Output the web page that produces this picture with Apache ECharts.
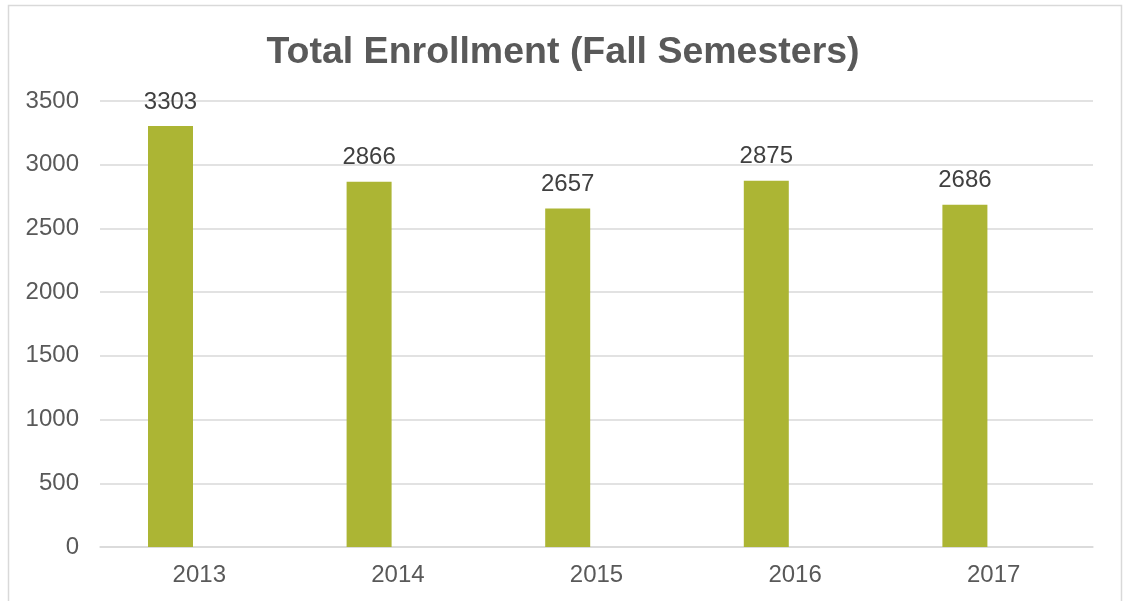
<!DOCTYPE html>
<html>
<head>
<meta charset="utf-8">
<script src="https://cdn.jsdelivr.net/npm/echarts@6/dist/echarts.min.js"></script>
<style>
html,body{margin:0;padding:0;background:#fff;}
#chart{width:1126px;height:601px;}
</style>
</head>
<body>
<div id="chart"></div>
<script>
const categories = ['2013', '2014', '2015', '2016', '2017'];
const enrollment = [3303, 2866, 2657, 2875, 2686];
const emptySeries = [null, null, null, null, null];
const yTicks = [0, 500, 1000, 1500, 2000, 2500, 3000, 3500];

const FONT = '"Liberation Sans", Arial, sans-serif';
const chart = echarts.init(document.getElementById('chart'), null, {renderer: 'canvas'});
chart.setOption({
  animation: false,
  backgroundColor: '#ffffff',
  title: {
    text: 'Total Enrollment (Fall Semesters)',
    left: 'center',
    top: 29,
    textStyle: {fontFamily: FONT, fontSize: 37.5, fontWeight: 'bold', color: '#595959'}
  },
  graphic: [{
    type: 'rect',
    shape: {x: 8.5, y: 5.5, width: 1113, height: 620},
    style: {fill: 'none', stroke: '#d9d9d9', lineWidth: 1.5},
    silent: true
  }],
  grid: {left: 100, right: 33, top: 101, bottom: 54, containLabel: false},
  xAxis: {
    type: 'category',
    data: categories,
    axisLine: {show: true, lineStyle: {color: '#d9d9d9', width: 1.5}},
    axisTick: {show: false},
    axisLabel: {fontFamily: FONT, fontSize: 24, color: '#595959', margin: 16}
  },
  yAxis: {
    type: 'value',
    min: yTicks[0],
    max: yTicks[yTicks.length - 1],
    interval: 500,
    axisLine: {show: false},
    axisTick: {show: false},
    splitLine: {lineStyle: {color: '#d9d9d9', width: 1.5}},
    axisLabel: {fontFamily: FONT, fontSize: 24, color: '#595959', margin: 21,
      formatter: function (v) { return String(v); }}
  },
  series: [{
    type: 'bar',
    data: enrollment,
    barWidth: 45,
    barGap: '28%',
    itemStyle: {color: '#acb534'},
    label: {
      show: true,
      position: 'top',
      distance: 12,
      fontFamily: FONT,
      fontSize: 24,
      color: '#404040'
    }
  }, {
    type: 'bar',
    data: emptySeries,
    barWidth: 45,
    itemStyle: {color: '#acb534'}
  }]
});
</script>
</body>
</html>
